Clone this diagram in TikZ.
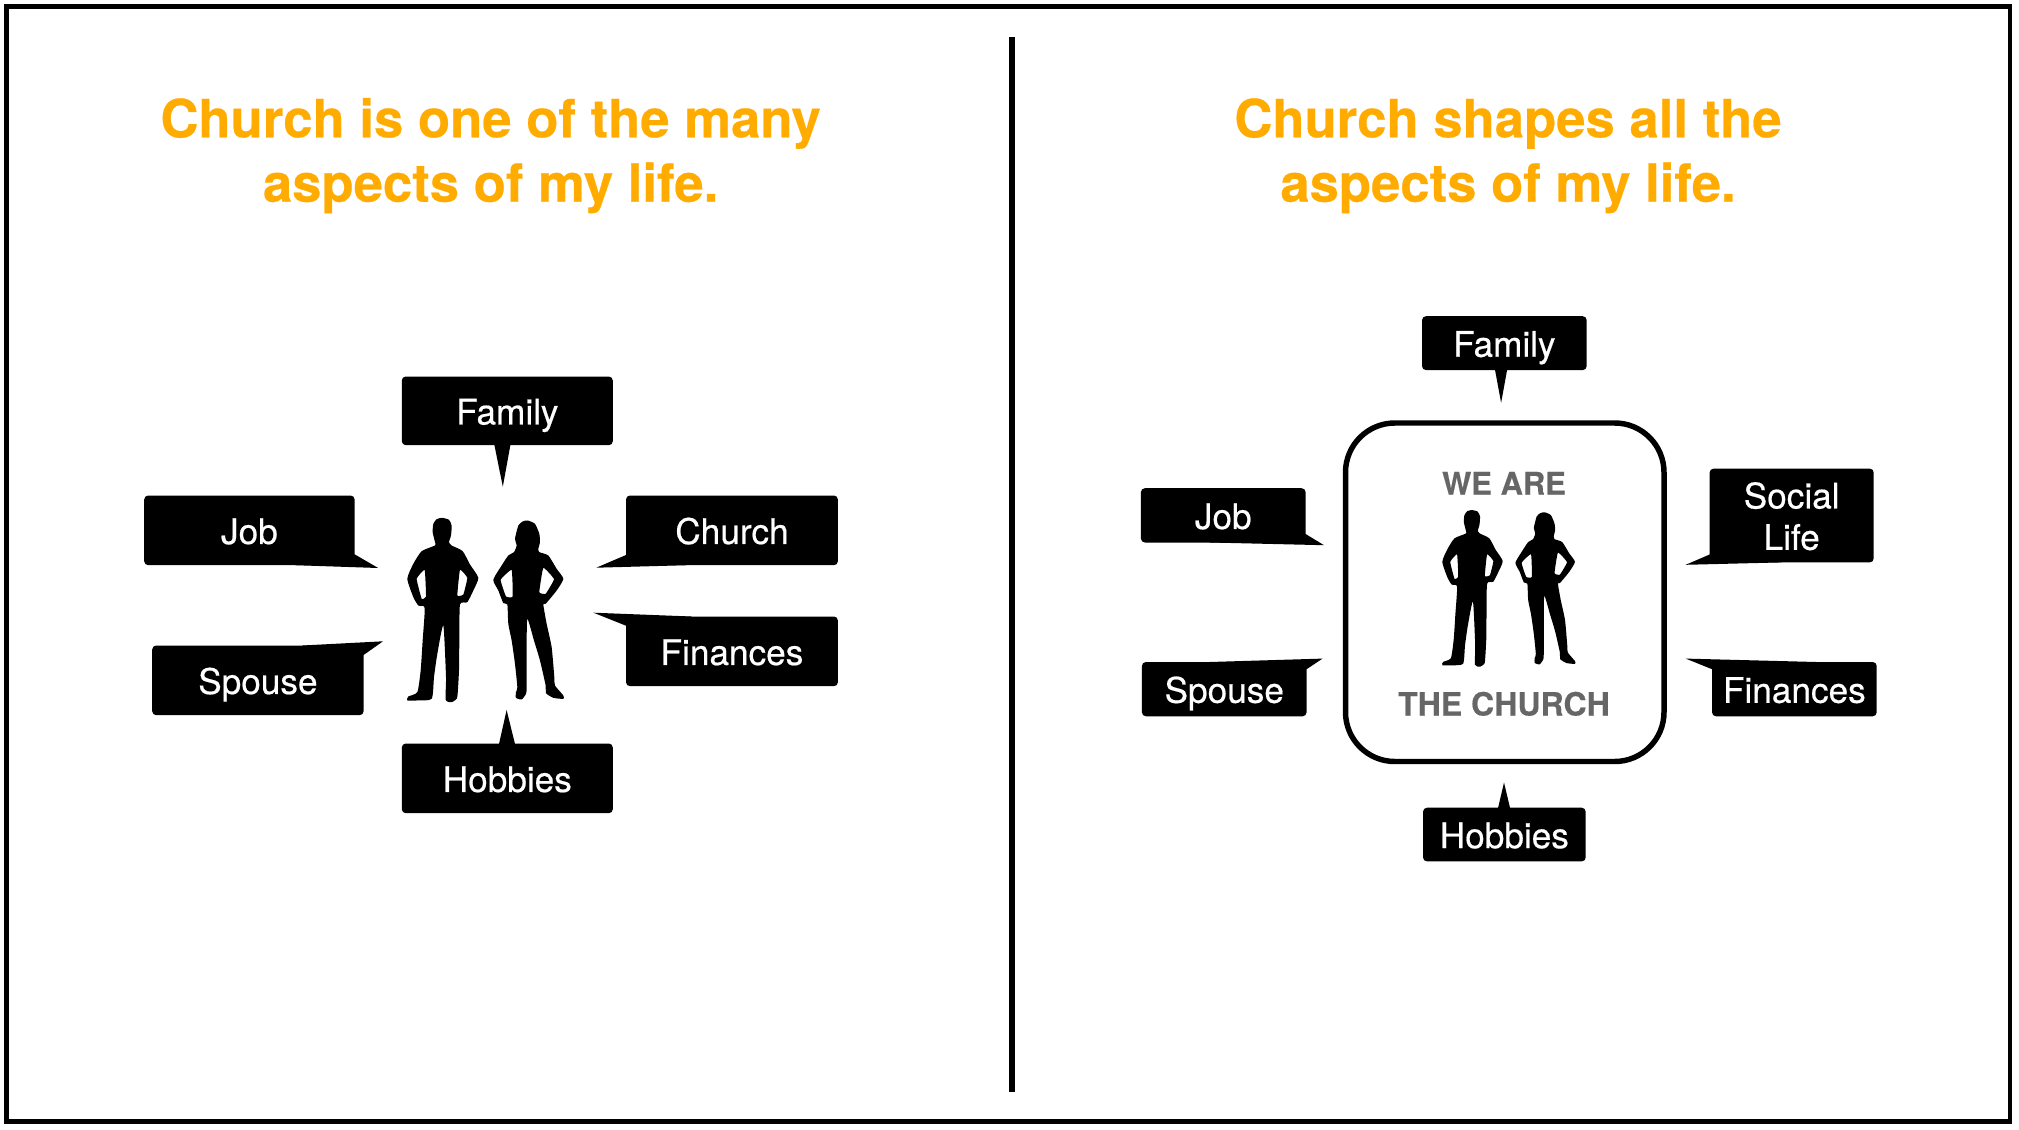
\documentclass[tikz,border=0pt]{standalone}
\usepackage{fontspec}
\setmainfont{TeX Gyre Heros}
\newfontfamily\medfont[FakeBold=0.5]{TeX Gyre Heros}
\newfontfamily\heavyfont[FakeBold=0.4,BoldFont={TeX Gyre Heros Bold}]{TeX Gyre Heros Bold}
\definecolor{titleor}{HTML}{FFAB00}
\definecolor{churchgrey}{HTML}{666666}
\tikzset{
  frameline/.style={draw=black,line width=3.5pt},
  title/.style={text=titleor,font=\fontsize{39.5}{47}\heavyfont,anchor=base,inner sep=0pt},
  callbox/.style={fill=black,rounded corners=3pt},
  calltext/.style={text=white,font=\fontsize{26.4}{31}\medfont,align=center,inner sep=0pt,text height=18.6pt,text depth=0pt},
  twolines/.style={text height=49.6pt},
  calltail/.style={fill=black},
  person/.style={fill=black,even odd rule},
  greylabel/.style={text=churchgrey,anchor=base,inner sep=0pt},
}
\newcommand{\cbox}[7][]{% options, name, x1, y1, x2, y2, text
  \path[callbox] (#3,#4) rectangle (#5,#6);
  \node[calltext,#1] (#2) at ({(#3+#5)/2},{(#4+#6)/2+1.2}) {#7};
}
\newcommand{\couple}[3]{% x shift, y shift, scale
\begin{scope}[shift={(#1,#2)},scale=#3]
\path[person]
 plot[smooth cycle,tension=0.35] coordinates {
 (187,82) (207,88) (215,105) (213,135) (207,155) (215,165) (248,182) (270,222) (295,262)
 (280,300) (262,335) (240,342) (238,450) (237,540) (233,610) (230,625) (215,635) (197,628)
 (198,560) (190,405) (172,490) (162,560) (155,625) (110,630) (82,630) (85,618) (112,605)
 (122,540) (128,450) (134,352) (115,345) (100,320) (82,265) (100,220) (125,182) (165,165)
 (165,155) (158,125) (160,100) (170,86)}
 plot[smooth cycle,tension=0.2] coordinates {(134,238) (110,265) (125,325) (138,318)}
 plot[smooth cycle,tension=0.2] coordinates {(240,238) (262,262) (250,312) (232,315)};
\path[person]
 plot[smooth cycle,tension=0.35] coordinates {
 (443,90) (465,100) (478,130) (480,155) (475,175) (478,185) (505,195) (530,235) (550,265)
 (530,300) (497,340) (490,342) (500,400) (515,470) (523,560) (525,585) (550,615) (550,625)
 (520,622) (498,608) (497,585) (480,510) (462,450) (442,385) (440,480) (440,590) (438,610)
 (425,627) (408,622) (408,605) (412,590) (405,520) (395,450) (385,400) (382,342) (370,338)
 (355,300) (340,268) (365,225) (385,195) (402,185) (410,165) (405,145) (415,105) (428,93)}
 plot[smooth cycle,tension=0.2] coordinates {(395,238) (362,268) (378,318) (398,318)}
 plot[smooth cycle,tension=0.2] coordinates {(490,232) (522,266) (497,310) (478,305)};
\end{scope}}
\begin{document}
\begin{tikzpicture}[x=0.75pt,y=-0.75pt]
\useasboundingbox (0,0) rectangle (2019,1130);
\fill[white] (0,0) rectangle (2019,1130);
\draw[frameline] (6.7,6.7) rectangle (2010,1121.7);
\coordinate (divtop) at (1012,36.7);
\coordinate (divbot) at (1012,1092);
\draw[line width=4.4pt] (divtop) -- (divbot);
% titles
\node[title] (tl1) at (490.6,137.3) {Church is one of the many};
\node[title] (tl2) at (490.6,201.7) {aspects of my life.};
\node[title] (tr1) at (1508,137.3) {Church shapes all the};
\node[title] (tr2) at (1508,201.7) {aspects of my life.};
% left panel
\fill[calltail] (493.4,440) -- (502.8,486.7) -- (511.3,440) -- cycle;
\cbox{lfam}{401.8}{376.5}{612.8}{445.2}{Family}
\fill[calltail] (354.6,554.3) -- (378.2,568) -- (295,565.2) -- (300,550) -- cycle;
\cbox{ljob}{144.2}{495.5}{354.6}{565.2}{Job}
\fill[calltail] (626,555) -- (596.3,567.7) -- (686.9,565.2) -- (660,550) -- cycle;
\cbox{lchu}{626}{495.5}{837.9}{565.2}{Church}
\fill[calltail] (626,625.7) -- (593.4,612.7) -- (691.6,616.5) -- (660,630) -- cycle;
\cbox{lfin}{626}{616.5}{837.9}{686.2}{Finances}
\fill[calltail] (363.6,655) -- (383,641.3) -- (302.3,645.5) -- (320,660) -- cycle;
\cbox{lspo}{152.2}{645.5}{363.6}{715.2}{Spouse}
\fill[calltail] (498.1,748) -- (506.6,710) -- (516,748) -- cycle;
\cbox{lhob}{401.8}{743.5}{612.8}{813.2}{Hobbies}
\couple{380}{490.5}{0.3333}
% right panel
\draw[line width=4.1pt,rounded corners=37pt] (1345.5,423) rectangle (1664,761.5);
\node[greylabel,font=\fontsize{23.2}{28}\heavyfont] (weare) at (1504,494.5) {WE ARE};
\node[greylabel,font=\fontsize{24}{28}\heavyfont] (thech) at (1504,715.5) {THE CHURCH};
\couple{1419.1}{486.8}{0.2833}
\fill[calltail] (1494.1,365) -- (1501.1,402.8) -- (1508,365) -- cycle;
\cbox{rfam}{1422}{316.2}{1586.7}{370.1}{Family}
\fill[calltail] (1305.6,534) -- (1324,545.2) -- (1209.6,542.5) -- (1230,530) -- cycle;
\cbox{rjob}{1140.9}{488.2}{1305.6}{542.5}{Job}
\fill[calltail] (1709.6,554.5) -- (1685.7,564.8) -- (1781.7,562.4) -- (1750,545) -- cycle;
\cbox[twolines]{rsoc}{1709.6}{468.6}{1873.7}{562.4}{Social\\Life}
\fill[calltail] (1712,669.2) -- (1685.7,658.6) -- (1816.5,662) -- (1780,675) -- cycle;
\cbox{rfin}{1712}{662}{1876.7}{716.3}{Finances}
\fill[calltail] (1306.6,669.2) -- (1322.5,658.6) -- (1209.6,662) -- (1230,675) -- cycle;
\cbox{rspo}{1141.9}{662}{1306.6}{716.3}{Spouse}
\fill[calltail] (1497.1,812) -- (1504,782.5) -- (1511,812) -- cycle;
\cbox{rhob}{1423}{807.7}{1585.7}{861.4}{Hobbies}
\end{tikzpicture}
\end{document}
